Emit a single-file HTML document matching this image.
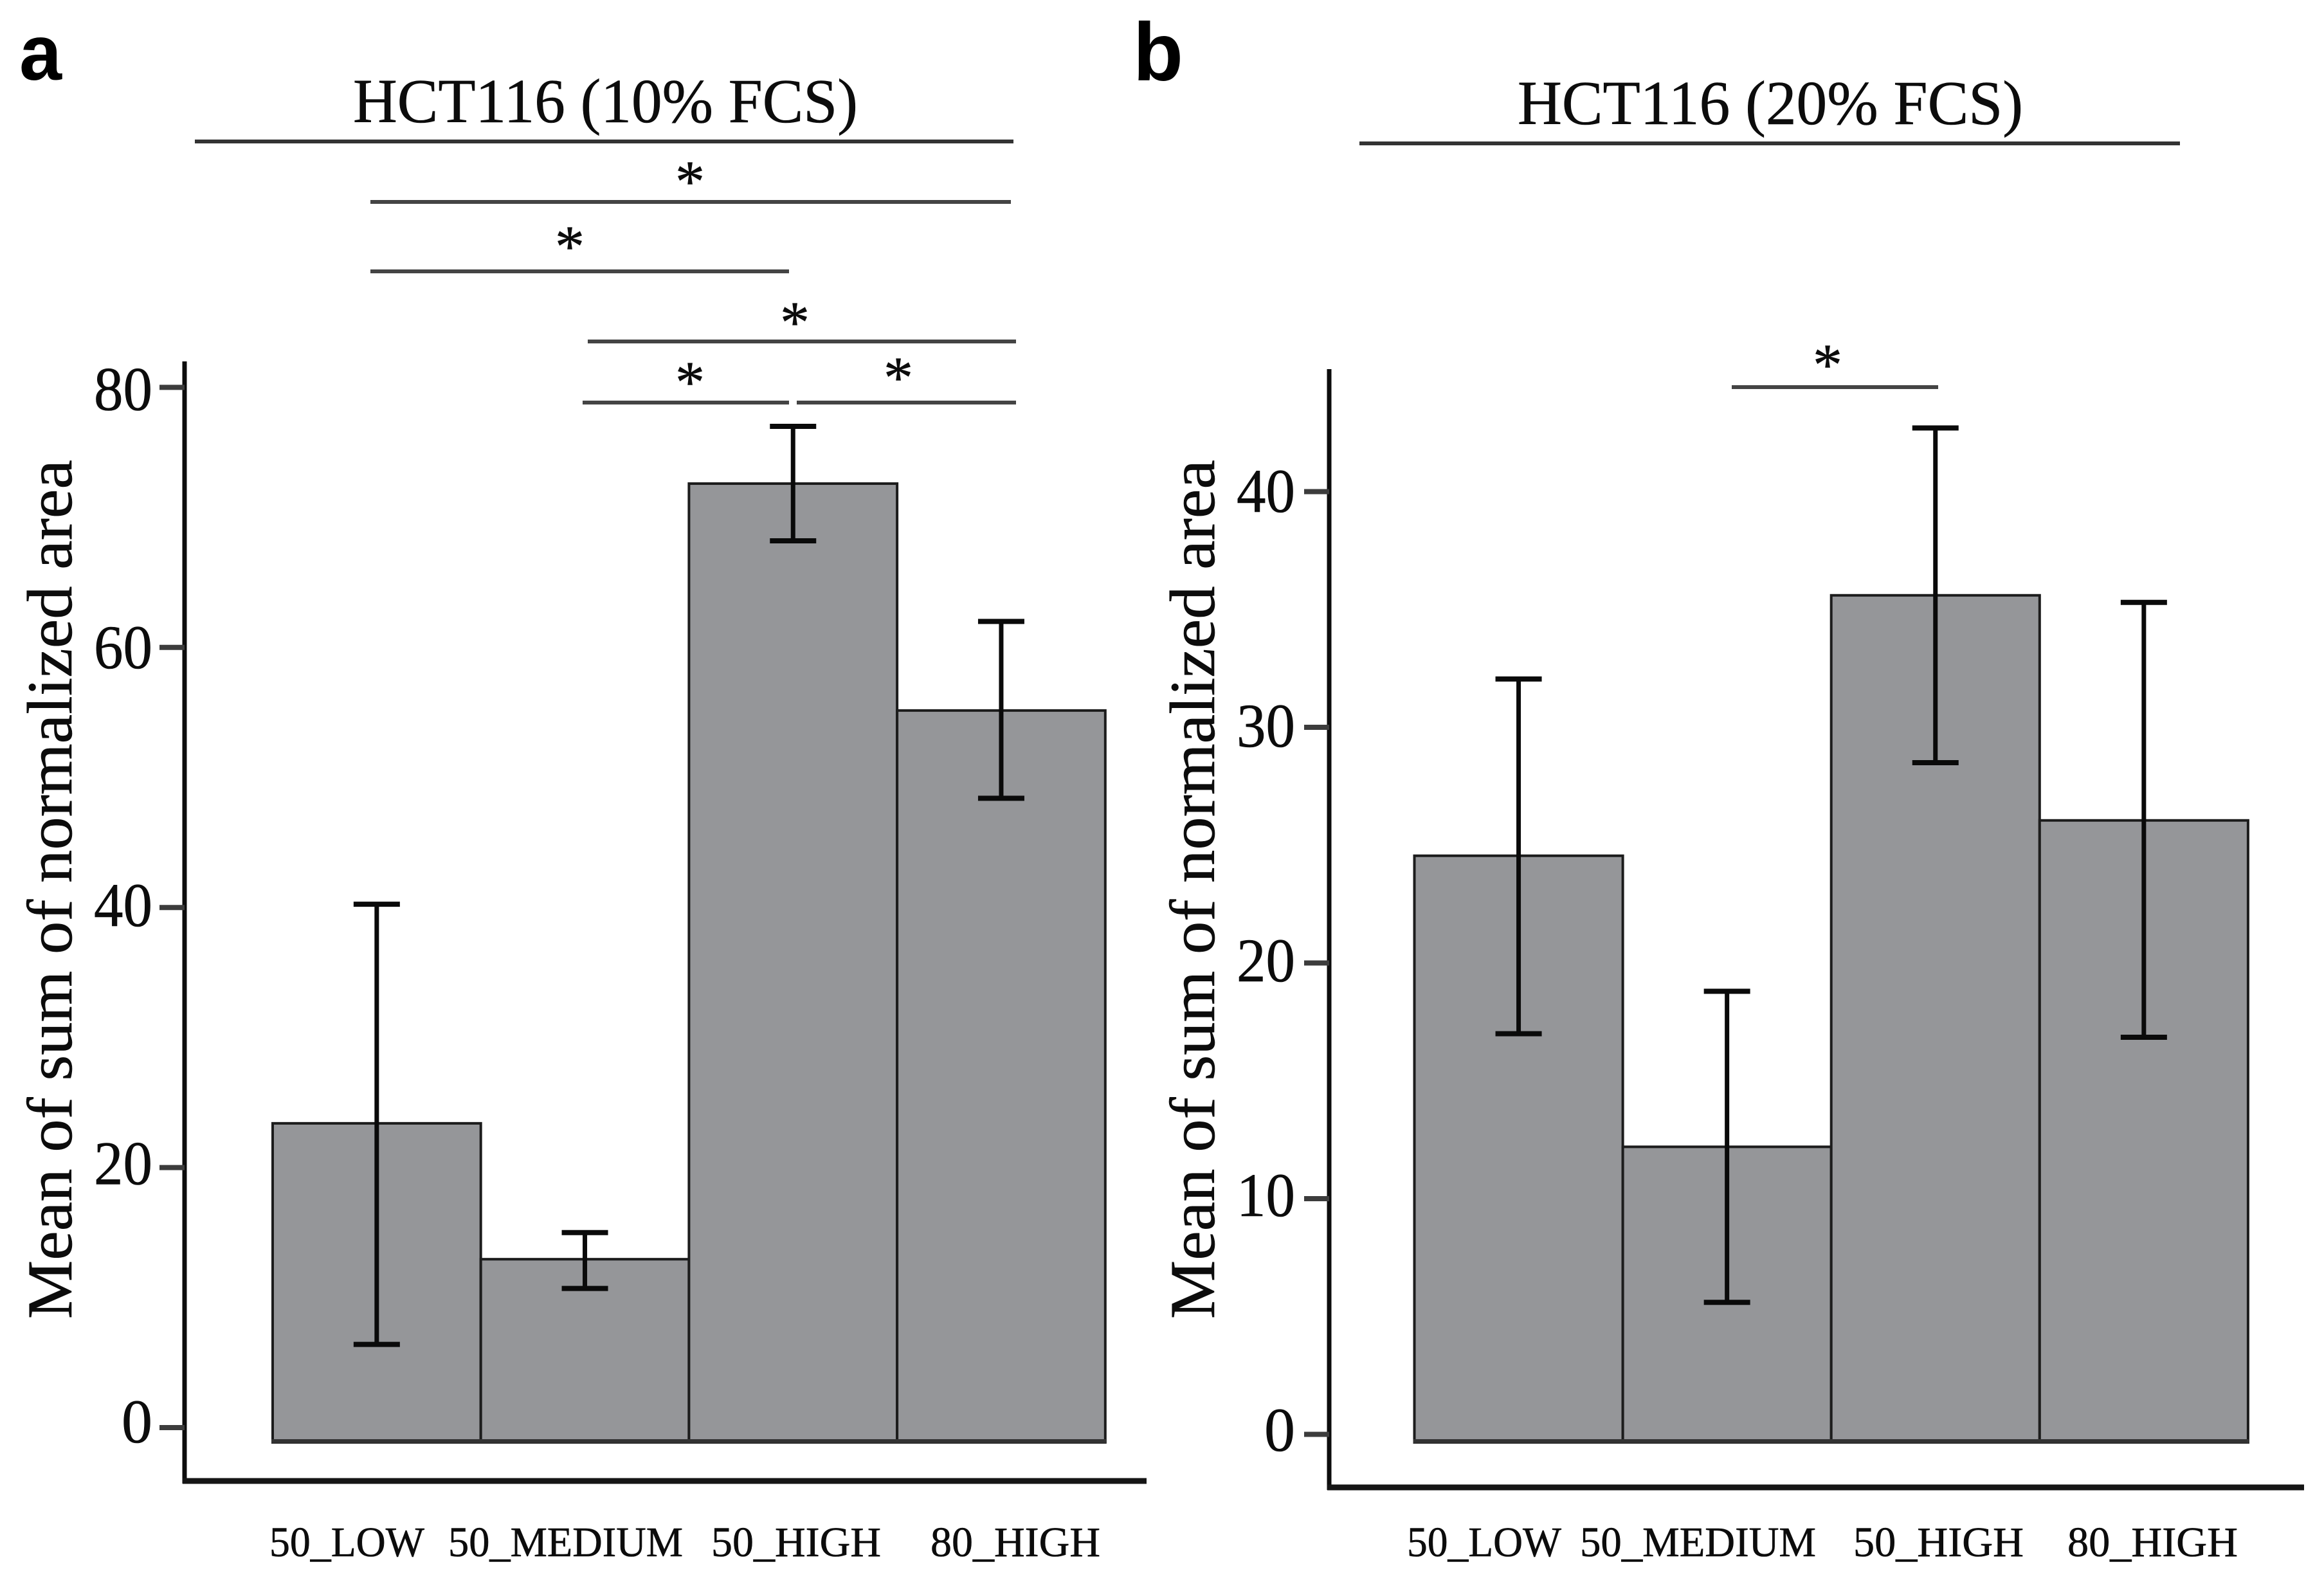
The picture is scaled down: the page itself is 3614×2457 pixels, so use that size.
<!DOCTYPE html>
<html lang="en">
<head>
<meta charset="utf-8">
<title>HCT116 bar charts</title>
<style>
html,body{margin:0;padding:0;background:#fff;}
svg{display:block;}
text{font-family:"Liberation Serif",serif;fill:#0c0c0c;stroke:#0c0c0c;stroke-width:0.6px;}
.panel{font-family:"Liberation Sans",sans-serif;font-weight:bold;fill:#000;stroke:none;}
</style>
</head>
<body>
<svg id="figure" xmlns="http://www.w3.org/2000/svg" width="3614" height="2457" viewBox="0 0 3614 2457">
  <rect x="0" y="0" width="3614" height="2457" fill="#fff"/>
  <text class="panel" x="30" y="124" font-size="122" textLength="66" lengthAdjust="spacingAndGlyphs">a</text>
  <text class="panel" x="1762" y="125" font-size="128" textLength="78" lengthAdjust="spacingAndGlyphs">b</text>

  <text x="549" y="190" font-size="97" textLength="785" lengthAdjust="spacingAndGlyphs">HCT116 (10% FCS)</text>
  <line x1="303" y1="220" x2="1576" y2="220" stroke="#333" stroke-width="6"/>
  <text x="2360" y="193" font-size="97" textLength="786" lengthAdjust="spacingAndGlyphs">HCT116 (20% FCS)</text>
  <line x1="2114" y1="223" x2="3390" y2="223" stroke="#333" stroke-width="6"/>

  <g stroke="#444" stroke-width="6">
    <line x1="576" y1="314" x2="1572" y2="314"/>
    <line x1="576" y1="422" x2="1227" y2="422"/>
    <line x1="914" y1="531" x2="1580" y2="531"/>
    <line x1="906" y1="626" x2="1227" y2="626"/>
    <line x1="1239" y1="626" x2="1580" y2="626"/>
  </g>
  <g font-size="92" text-anchor="middle">
    <text x="1073" y="313">*</text>
    <text x="886" y="414">*</text>
    <text x="1236" y="532">*</text>
    <text x="1073" y="625">*</text>
    <text x="1397" y="618">*</text>
  </g>
  <line x1="2693" y1="602" x2="3014" y2="602" stroke="#444" stroke-width="6"/>
  <text x="2842" y="598" font-size="92" text-anchor="middle">*</text>

  <text transform="translate(111,2051) rotate(-90)" x="0" y="0" font-size="100" textLength="1336" lengthAdjust="spacingAndGlyphs">Mean of sum of normalized area</text>
  <text transform="translate(1888,2051) rotate(-90)" x="0" y="0" font-size="100" textLength="1336" lengthAdjust="spacingAndGlyphs">Mean of sum of normalized area</text>

  <g id="chart-a"></g>
  <g id="chart-b"></g>
</svg>
<script>
// Chart data
const categories = ['50_LOW', '50_MEDIUM', '50_HIGH', '80_HIGH'];

const tickValuesA = [0, 20, 40, 60, 80];
const meansA = [23.4, 12.95, 72.6, 55.15];
const errLowA = [6.4, 10.7, 68.2, 48.4];
const errHighA = [40.25, 15.0, 77.0, 62.0];

const tickValuesB = [0, 10, 20, 30, 40];
const meansB = [24.55, 12.2, 35.6, 26.05];
const errLowB = [17.0, 5.6, 28.5, 16.85];
const errHighB = [32.05, 18.8, 42.7, 35.3];

const NS = 'http://www.w3.org/2000/svg';

function mk(parent, tag, props) {
  const el = document.createElementNS(NS, tag);
  for (const k in props) el.setAttribute(k, props[k]);
  parent.appendChild(el);
  return el;
}

function drawChart(cfg) {
  const g = document.getElementById(cfg.id);
  const y = v => cfg.zeroY - v * cfg.unit;
  const bandX = i => cfg.barLeft + i * cfg.barWidth;

  // bars
  cfg.means.forEach((m, i) => {
    const bar = mk(g, 'rect', {
      x: bandX(i), y: y(m), width: cfg.barWidth, height: cfg.barBottom - y(m),
      fill: '#959699', stroke: '#1c1c1c', 'stroke-width': 4
    });
    
    
  });
  const base = mk(g, 'line', {
    x1: cfg.barLeft - 2, x2: cfg.barLeft + cfg.means.length * cfg.barWidth + 2,
    y1: cfg.barBottom - 2, y2: cfg.barBottom - 2, stroke: '#333', 'stroke-width': 6
  });
  
  

  // error bars
  cfg.means.forEach((m, i) => {
    const cx = bandX(i) + cfg.barWidth / 2;
    const stem = mk(g, 'line', {
      x1: cx, x2: cx, y1: y(cfg.errHigh[i]), y2: y(cfg.errLow[i]),
      stroke: '#0a0a0a', 'stroke-width': 7
    });
    
    
    [cfg.errHigh[i], cfg.errLow[i]].forEach(v => {
      const cap = mk(g, 'line', {
        x1: cx - 36, x2: cx + 36, y1: y(v), y2: y(v),
        stroke: '#0a0a0a', 'stroke-width': 8
      });
      
      
    });
  });

  // axes
  const yAxis = mk(g, 'line', {
    x1: cfg.axisX, x2: cfg.axisX, y1: cfg.axisTop, y2: cfg.axisBottom + 4,
    stroke: '#0c0c0c', 'stroke-width': 7
  });
  
  
  const xAxis = mk(g, 'line', {
    x1: cfg.axisX - 3, x2: cfg.axisRight, y1: cfg.axisBottom, y2: cfg.axisBottom,
    stroke: '#151515', 'stroke-width': 9
  });
  
  

  // y ticks
  cfg.ticks.forEach(v => {
    const tick = mk(g, 'line', {
      x1: cfg.axisX - 39, x2: cfg.axisX, y1: y(v), y2: y(v),
      stroke: '#3c3c3c', 'stroke-width': 8
    });
    
    
    const s = String(v);
    const props = {
      x: cfg.tickLabelRight, y: cfg.labelZeroY - v * cfg.labelUnit,
      'font-size': 96, 'text-anchor': 'end'
    };
    if (s.length > 1) { props.textLength = 91; props.lengthAdjust = 'spacingAndGlyphs'; }
    const label = mk(g, 'text', props);
    label.textContent = s;
    
    
  });

  // category labels
  categories.forEach((c, i) => {
    const label = mk(g, 'text', {
      x: cfg.catStart[i], y: 2420, 'font-size': 66,
      textLength: cfg.catLen[i], lengthAdjust: 'spacingAndGlyphs'
    });
    label.textContent = c;
    
    
  });
}

drawChart({
  id: 'chart-a', means: meansA, errLow: errLowA, errHigh: errHighA, ticks: tickValuesA,
  zeroY: 2220, unit: 20.22, barLeft: 424, barWidth: 323.7, barBottom: 2243,
  axisX: 287, axisTop: 562, axisBottom: 2303, axisRight: 1783,
  tickLabelRight: 237, labelZeroY: 2243, labelUnit: 20.07,
  catStart: [419, 697, 1106, 1447], catLen: [241, 365, 264, 264]
});
drawChart({
  id: 'chart-b', means: meansB, errLow: errLowB, errHigh: errHighB, ticks: tickValuesB,
  zeroY: 2230.5, unit: 36.65, barLeft: 2199.5, barWidth: 324.1, barBottom: 2243,
  axisX: 2067, axisTop: 574, axisBottom: 2313, axisRight: 3583,
  tickLabelRight: 2014, labelZeroY: 2256, labelUnit: 36.5,
  catStart: [2188, 2457, 2882, 3215], catLen: [240, 367, 265, 265]
});
</script>
</body>
</html>
